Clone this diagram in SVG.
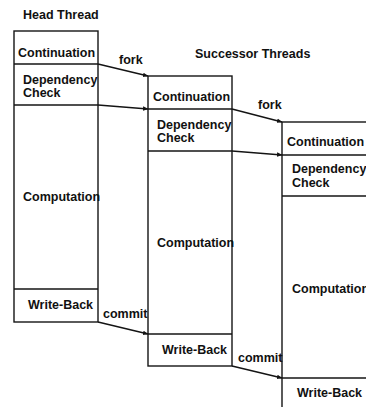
<svg xmlns="http://www.w3.org/2000/svg" width="366" height="407" viewBox="0 0 366 407">
<defs>
<style>
.bx{fill:none;stroke:#141414;stroke-width:1.4}
.ln{stroke:#141414;stroke-width:1.4;fill:none}
.t{font-family:"Liberation Sans",Arial,sans-serif;font-weight:bold;font-size:12.5px;fill:#111}
.c{stroke:#141414;stroke-width:1.4;fill:none;marker-end:url(#ah)}
</style>
<marker id="ah" viewBox="0 0 10 10" refX="9" refY="5" markerWidth="4" markerHeight="4" orient="auto" markerUnits="strokeWidth">
<path d="M0,1 L10,5 L0,9 z" fill="#141414"/>
</marker>
</defs>
<rect width="366" height="407" fill="#fff"/>
<text class="t" x="23" y="19">Head Thread</text>
<text class="t" x="195" y="58">Successor Threads</text>
<g id="head-thread">
<rect class="bx" x="14" y="31" width="84" height="291"/>
<line class="ln" x1="14" y1="64" x2="98" y2="64"/>
<line class="ln" x1="14" y1="105" x2="98" y2="105"/>
<line class="ln" x1="14" y1="289" x2="98" y2="289"/>
<text class="t" x="18" y="57">Continuation</text>
<text class="t" x="23" y="84">Dependency</text>
<text class="t" x="23" y="97">Check</text>
<text class="t" x="23" y="201">Computation</text>
<text class="t" x="28" y="309">Write-Back</text>
</g>
<g id="successor-1">
<rect class="bx" x="148" y="76" width="84" height="290"/>
<line class="ln" x1="148" y1="109" x2="232" y2="109"/>
<line class="ln" x1="148" y1="151" x2="232" y2="151"/>
<line class="ln" x1="148" y1="334" x2="232" y2="334"/>
<text class="t" x="153" y="101">Continuation</text>
<text class="t" x="157" y="129">Dependency</text>
<text class="t" x="157" y="142">Check</text>
<text class="t" x="157" y="247">Computation</text>
<text class="t" x="162" y="354">Write-Back</text>
</g>
<g id="successor-2">
<rect class="bx" x="282" y="122" width="100" height="300"/>
<line class="ln" x1="282" y1="155" x2="366" y2="155"/>
<line class="ln" x1="282" y1="196" x2="366" y2="196"/>
<line class="ln" x1="282" y1="378" x2="366" y2="378"/>
<text class="t" x="287" y="146">Continuation</text>
<text class="t" x="292" y="173">Dependency</text>
<text class="t" x="292" y="187">Check</text>
<text class="t" x="292" y="293">Computation</text>
<text class="t" x="297" y="397">Write-Back</text>
</g>
<g id="connectors">
<line class="c" x1="98" y1="64" x2="148" y2="76"/>
<line class="c" x1="98" y1="105" x2="148" y2="109"/>
<line class="c" x1="98" y1="322" x2="148" y2="334"/>
<line class="c" x1="232" y1="109" x2="282" y2="122"/>
<line class="c" x1="232" y1="151" x2="282" y2="155"/>
<line class="c" x1="232" y1="366" x2="282" y2="378"/>
<text class="t" x="119" y="64">fork</text>
<text class="t" x="258" y="109">fork</text>
<text class="t" x="103" y="318">commit</text>
<text class="t" x="238" y="362">commit</text>
</g>
</svg>
